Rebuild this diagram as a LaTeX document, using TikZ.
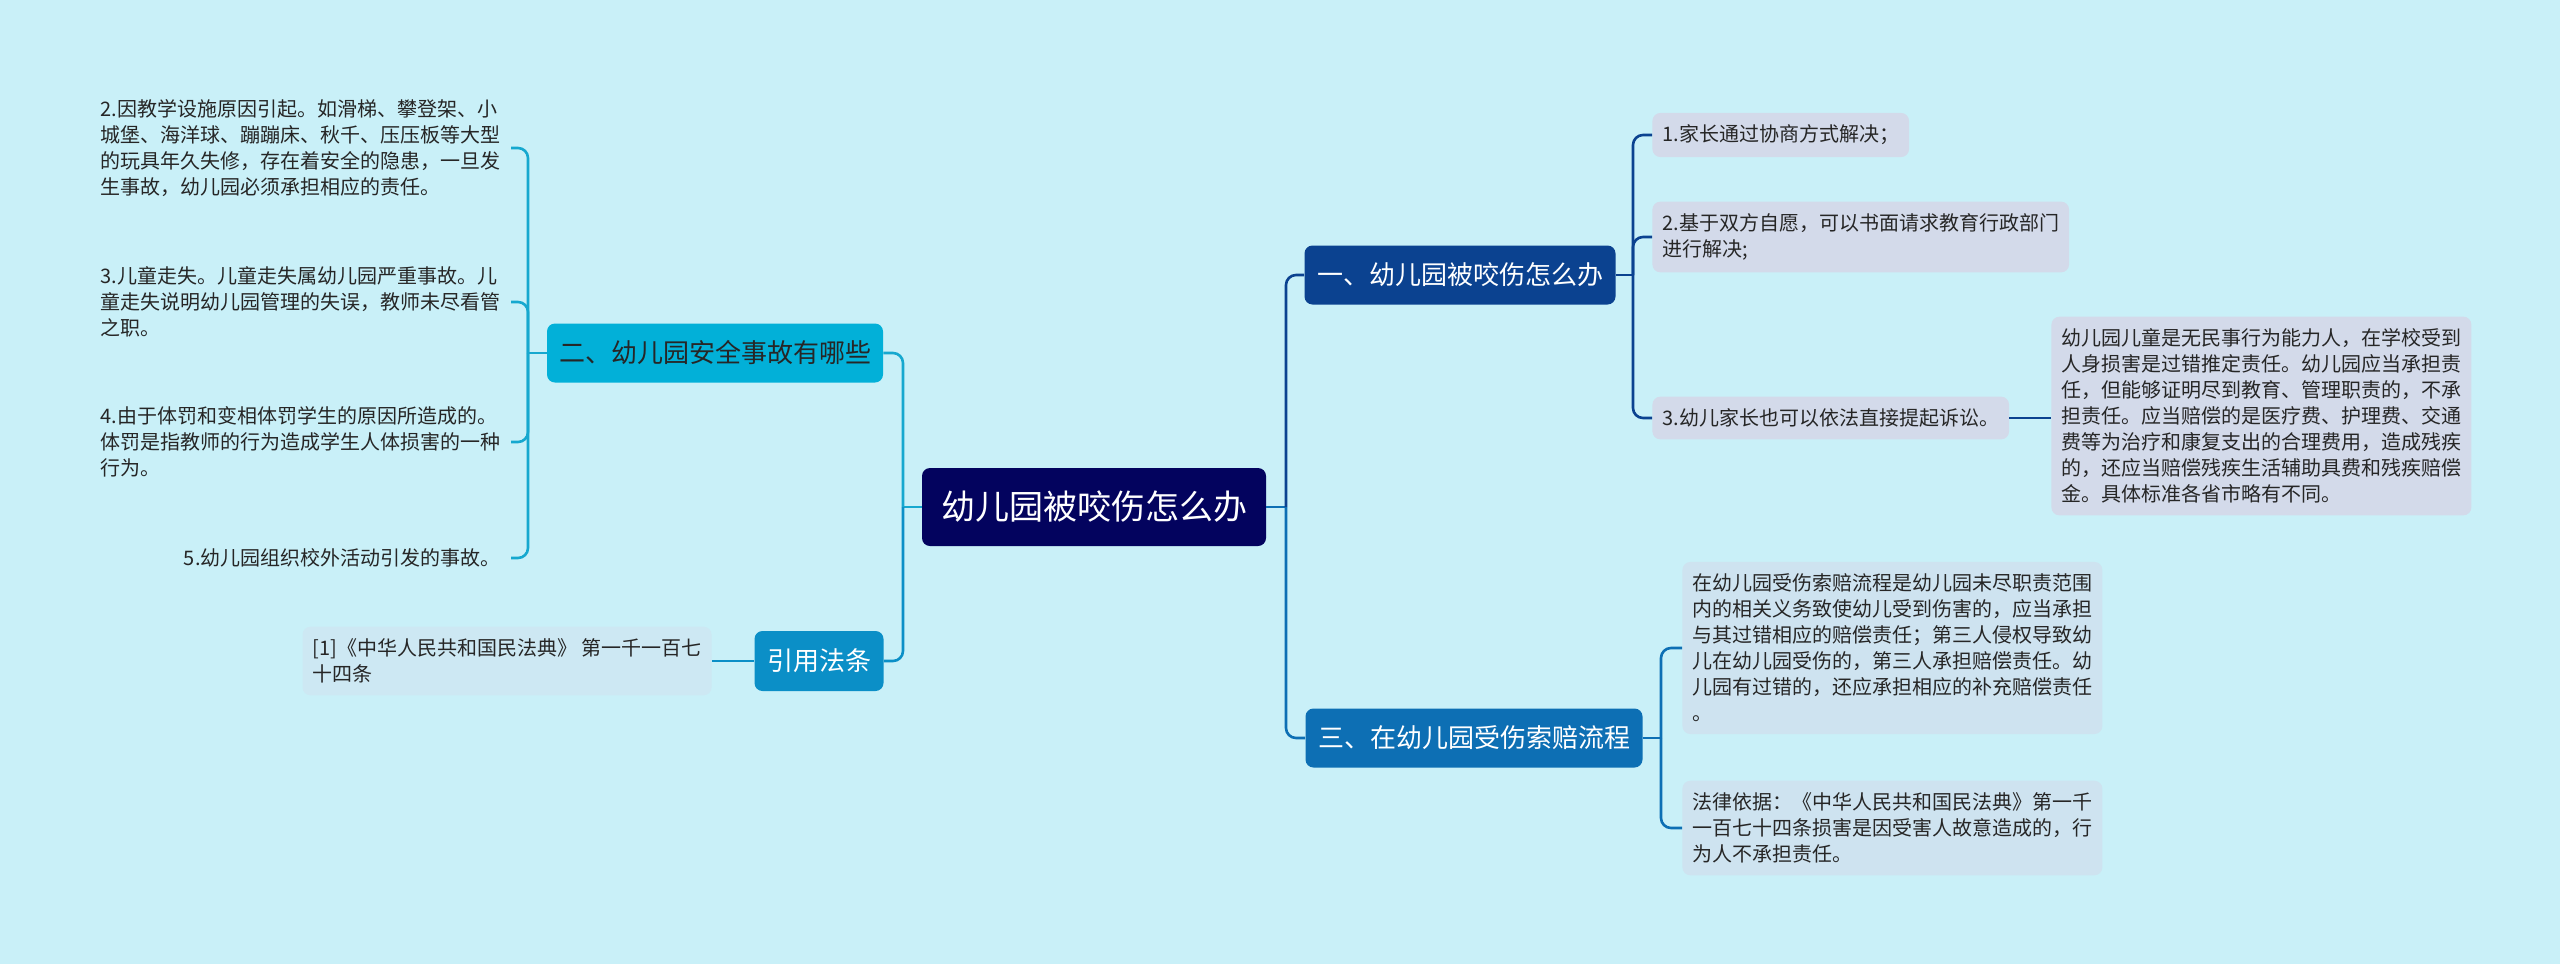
\documentclass[tikz,border=0pt]{standalone}
\usepackage{fontspec}
\setmainfont{Noto Sans CJK SC}
\usepackage{xcolor}
\usepackage{tikz}
\definecolor{bgcol}{HTML}{C9F0F8}
\definecolor{rootcol}{HTML}{03035E}
\definecolor{oneCol}{HTML}{0B4290}
\definecolor{twoCol}{HTML}{02B0D8}
\definecolor{twoLine}{HTML}{16A8CF}
\definecolor{thrCol}{HTML}{0D6FB4}
\definecolor{refCol}{HTML}{0B8FC7}
\definecolor{leafA}{HTML}{D3DAEA}
\definecolor{leafC}{HTML}{CEE3F0}
\definecolor{leafR}{HTML}{CDE8F3}

\begin{document}
\begin{tikzpicture}[x=0.5pt,y=-0.5pt,line join=round,
    txt/.style={font=\fontsize{10pt}{13pt}\selectfont,text=black!85,align=left,
                inner xsep=5pt,inner ysep=6pt},
    leaf/.style={txt,fill=#1,rounded corners=4pt},
    topic/.style={fill=#1,rounded corners=4pt,text=white,inner sep=0pt,
                  font=\fontsize{13pt}{15pt}\selectfont,minimum height=29.5pt},
    lnk/.style={draw=#1,line width=1.3pt}]
  \useasboundingbox[fill=bgcol] (0,0) rectangle (2560,964);
% ================= centre =================
  \node[topic=rootcol,minimum width=172pt,minimum height=39pt,
        font=\fontsize{17pt}{19pt}\selectfont] (root) at (1094,507) {幼儿园被咬伤怎么办};
  \coordinate (jL) at (903,507);
  \coordinate (jR) at (1286,507);
% ================= main branches =================
  \node[topic=oneCol,minimum width=155.5pt] (b1) at (1460,275) {一、幼儿园被咬伤怎么办};
  \node[topic=twoCol,minimum width=168pt,text=black!85] (b2) at (715,353) {二、幼儿园安全事故有哪些};
  \node[topic=thrCol,minimum width=168.5pt] (b3) at (1474,738) {三、在幼儿园受伤索赔流程};
  \node[topic=refCol,minimum width=64.5pt,minimum height=30pt] (b4) at (819,661) {引用法条};
% ================= (1) leaves =================
  \coordinate (busA) at (1633,0);
  \node[leaf=leafA,anchor=west] (r1) at (1652,135) {1.家长通过协商方式解决；};
  \node[leaf=leafA,anchor=west] (r2) at (1652,237) {2.基于双方自愿，可以书面请求教育行政部门\\进行解决;};
  \node[leaf=leafA,anchor=west] (r3) at (1652,418) {3.幼儿家长也可以依法直接提起诉讼。};
  \node[leaf=leafA,anchor=west] (d3) at (2051,416)
      {幼儿园儿童是无民事行为能力人，在学校受到\\人身损害是过错推定责任。幼儿园应当承担责\\任，但能够证明尽到教育、管理职责的，不承\\担责任。应当赔偿的是医疗费、护理费、交通\\费等为治疗和康复支出的合理费用，造成残疾\\的，还应当赔偿残疾生活辅助具费和残疾赔偿\\金。具体标准各省市略有不同。};
% ================= (2) leaves =================
  \coordinate (busB) at (528,0);
  \node[txt,anchor=east] (l2) at (511,148)
      {2.因教学设施原因引起。如滑梯、攀登架、小\\城堡、海洋球、蹦蹦床、秋千、压压板等大型\\的玩具年久失修，存在着安全的隐患，一旦发\\生事故，幼儿园必须承担相应的责任。};
  \node[txt,anchor=east] (l3) at (511,302)
      {3.儿童走失。儿童走失属幼儿园严重事故。儿\\童走失说明幼儿园管理的失误，教师未尽看管\\之职。};
  \node[txt,anchor=east] (l4) at (511,442)
      {4.由于体罚和变相体罚学生的原因所造成的。\\体罚是指教师的行为造成学生人体损害的一种\\行为。};
  \node[txt,anchor=east] (l5) at (511,558) {5.幼儿园组织校外活动引发的事故。};
% ================= (3) leaves =================
  \coordinate (busC) at (1661,0);
  \node[leaf=leafC,anchor=west] (s1) at (1682,648)
      {在幼儿园受伤索赔流程是幼儿园未尽职责范围\\内的相关义务致使幼儿受到伤害的，应当承担\\与其过错相应的赔偿责任；第三人侵权导致幼\\儿在幼儿园受伤的，第三人承担赔偿责任。幼\\儿园有过错的，还应承担相应的补充赔偿责任\\。};
  \node[leaf=leafC,anchor=west] (s2) at (1682,828)
      {法律依据：《中华人民共和国民法典》第一千\\一百七十四条损害是因受害人故意造成的，行\\为人不承担责任。};
% ================= reference leaf =================
  \node[leaf=leafR,anchor=east] (ref) at (712,661)
      {[1]《中华人民共和国民法典》 第一千一百七\\十四条};
% ================= connectors =================
  \draw[lnk=thrCol] (root.east) -- (jR);
  \draw[lnk=oneCol,rounded corners=5pt] (jR) |- (b1.west);
  \draw[lnk=thrCol,rounded corners=5pt] (jR) |- (b3.west);
  \draw[lnk=twoLine] (root.west) -- (jL);
  \draw[lnk=twoLine,rounded corners=5pt] (jL) |- (b2.east);
  \draw[lnk=refCol,rounded corners=5pt] (jL) |- (b4.east);
  \draw[lnk=refCol] (b4.west) -- (ref.east);
  % branch one
  \draw[lnk=oneCol] (b1.east) -- (b1.east -| busA);
  \foreach \n in {r1,r2,r3}
    \draw[lnk=oneCol,rounded corners=5pt] (b1.east -| busA) |- (\n.west);
  \draw[lnk=oneCol] (r3.east) -- (r3.east -| d3.west);
  % branch two
  \draw[lnk=twoLine] (b2.west) -- (b2.west -| busB);
  \foreach \n in {l2,l3,l4,l5}
    \draw[lnk=twoLine,rounded corners=5pt] (b2.west -| busB) |- (\n.east);
  % branch three
  \draw[lnk=thrCol] (b3.east) -- (b3.east -| busC);
  \foreach \n in {s1,s2}
    \draw[lnk=thrCol,rounded corners=5pt] (b3.east -| busC) |- (\n.west);
\end{tikzpicture}
\end{document}
